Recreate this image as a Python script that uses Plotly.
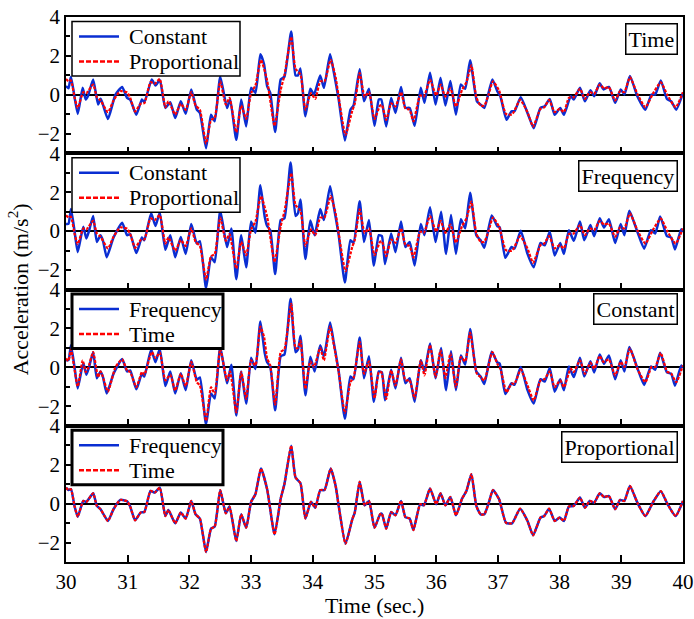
import plotly.graph_objects as go
from plotly.subplots import make_subplots

# ---------------- data ----------------
# Time-domain, constant damping
t_const_time = [30.00,30.04,30.08,30.19,30.27,30.32,30.36,30.44,30.52,30.56,30.59,30.68,30.80,30.91,30.99,31.04,31.14,31.23,31.27,31.39,31.45,31.52,31.61,31.69,31.77,31.86,31.94,32.03,32.12,32.17,32.27,32.35,32.41,32.50,32.61,32.66,32.76,32.84,32.92,33.00,33.07,33.15,33.21,33.26,33.31,33.39,33.48,33.54,33.65,33.72,33.76,33.80,33.88,33.96,34.02,34.12,34.18,34.28,34.34,34.42,34.52,34.61,34.66,34.76,34.83,34.91,35.00,35.07,35.11,35.19,35.27,35.34,35.43,35.50,35.57,35.65,35.75,35.81,35.90,35.99,36.07,36.15,36.23,36.32,36.40,36.47,36.55,36.66,36.72,36.78,36.91,36.99,37.04,37.14,37.22,37.27,37.37,37.50,37.58,37.69,37.76,37.84,37.92,38.01,38.07,38.18,38.23,38.33,38.41,38.50,38.56,38.65,38.71,38.80,38.90,38.99,39.05,39.14,39.26,39.39,39.49,39.55,39.64,39.74,39.81,39.89,40.00]
a_const_time = [0.45,0.34,0.93,-0.98,0.36,-0.24,-0.03,0.79,-0.50,-0.20,-0.41,-1.24,0.00,0.41,-0.16,-0.24,-1.02,-0.24,-0.38,0.79,0.48,0.76,-0.67,-0.38,-1.19,-0.33,-0.97,0.28,-0.76,-0.93,-2.74,-1.02,-1.36,0.93,-0.67,-0.21,-2.31,-0.24,-1.62,0.36,0.10,2.09,1.57,0.45,0.10,-1.91,0.79,0.93,3.26,1.00,1.00,1.36,-1.10,0.31,0.02,1.00,0.36,2.09,1.17,-0.24,-2.34,-0.76,-0.55,1.31,-0.33,0.31,-1.59,-0.24,-0.24,-1.62,-0.16,-0.93,0.41,-0.67,-0.67,-1.59,0.36,-0.41,1.14,-0.50,0.88,-0.55,0.71,-1.02,0.53,0.31,1.78,-0.33,-0.50,-0.67,0.79,0.19,-0.07,-1.28,-0.84,-0.84,-0.12,-1.10,-1.71,-0.67,-0.59,-0.21,-1.02,-0.67,-1.02,-0.07,-0.24,0.36,-0.33,0.24,-0.07,0.59,0.28,0.41,-0.41,0.28,0.02,0.97,-0.07,-0.76,0.02,0.02,0.74,-0.21,-0.33,-0.76,0.10]

# Frequency-domain, constant damping
t_const_freq = [30.00,30.04,30.08,30.14,30.19,30.28,30.33,30.37,30.44,30.50,30.56,30.60,30.66,30.77,30.91,30.99,31.04,31.14,31.23,31.27,31.38,31.45,31.52,31.61,31.69,31.77,31.86,31.94,32.03,32.12,32.17,32.27,32.35,32.41,32.50,32.61,32.68,32.76,32.84,32.92,33.00,33.07,33.15,33.22,33.26,33.31,33.39,33.48,33.54,33.64,33.72,33.76,33.80,33.88,33.96,34.03,34.12,34.18,34.28,34.34,34.42,34.52,34.61,34.66,34.76,34.83,34.91,34.99,35.07,35.12,35.17,35.27,35.34,35.43,35.50,35.57,35.65,35.75,35.81,35.90,35.99,36.08,36.16,36.24,36.32,36.40,36.47,36.55,36.65,36.72,36.78,36.90,36.99,37.03,37.12,37.22,37.27,37.37,37.48,37.58,37.69,37.76,37.84,37.92,38.01,38.07,38.15,38.23,38.33,38.40,38.50,38.56,38.65,38.72,38.80,38.90,38.99,39.05,39.13,39.26,39.37,39.48,39.55,39.63,39.74,39.81,39.87,39.97,40.00]
a_const_freq = [0.37,0.37,1.13,-0.03,-1.08,0.23,-0.38,-0.03,0.78,-0.56,-0.21,-0.50,-1.34,-0.33,0.43,-0.21,-0.16,-1.13,-0.33,-0.47,0.92,0.26,0.96,-0.96,-0.21,-1.34,-0.30,-1.17,0.37,-0.64,-0.52,-2.94,-1.34,-1.60,1.06,-0.82,0.14,-2.47,-0.21,-1.86,0.49,-0.09,2.35,0.75,0.26,0.05,-2.21,0.57,0.66,3.53,0.78,0.92,1.62,-1.43,0.54,-0.21,1.13,0.57,2.31,1.27,-0.21,-2.64,-0.47,-0.61,1.53,-0.56,0.57,-1.77,-0.21,-0.26,-1.69,-0.12,-1.08,0.49,-0.82,-0.56,-1.77,0.37,-0.21,1.23,-0.56,1.00,-1.17,0.83,-1.17,0.61,0.14,1.97,-0.21,-0.47,-0.85,0.80,0.26,0.19,-1.37,-0.82,-0.90,0.02,-1.17,-1.86,-0.61,-0.73,-0.03,-1.25,-0.61,-1.17,0.05,-0.50,0.49,-0.47,0.31,-0.26,0.66,0.19,0.61,-0.61,0.37,-0.21,1.04,-0.03,-0.90,0.05,-0.12,0.75,-0.26,-0.33,-0.94,0.09,-0.03]

# Proportional damping (time and frequency results practically coincide)
t_prop = [30.00,30.04,30.08,30.14,30.19,30.28,30.33,30.44,30.50,30.56,30.68,30.77,30.88,30.99,31.04,31.12,31.21,31.27,31.37,31.44,31.52,31.61,31.66,31.77,31.86,31.94,32.03,32.10,32.17,32.27,32.35,32.41,32.50,32.59,32.65,32.76,32.84,32.92,33.00,33.07,33.16,33.26,33.38,33.48,33.54,33.65,33.72,33.80,33.88,33.97,34.04,34.12,34.19,34.29,34.37,34.42,34.53,34.64,34.68,34.76,34.84,34.91,35.00,35.09,35.12,35.19,35.27,35.34,35.43,35.50,35.57,35.63,35.74,35.80,35.90,36.00,36.07,36.15,36.23,36.32,36.42,36.49,36.57,36.65,36.72,36.78,36.85,36.92,37.02,37.13,37.23,37.36,37.48,37.57,37.69,37.75,37.83,37.92,38.00,38.07,38.15,38.23,38.33,38.41,38.49,38.56,38.65,38.72,38.80,38.90,38.98,39.05,39.14,39.26,39.39,39.51,39.64,39.75,39.88,40.00]
a_prop = [0.82,0.70,0.74,-0.15,-0.67,0.14,0.09,0.53,-0.12,-0.29,-0.89,-0.29,0.19,0.12,-0.15,-0.86,-0.46,-0.43,0.65,0.57,0.82,-0.64,-0.33,-1.01,-0.46,-0.77,0.14,-0.55,-0.77,-2.49,-1.29,-1.18,0.69,-0.50,-0.15,-1.92,-0.55,-1.24,0.09,0.48,1.80,0.74,-1.58,0.26,1.00,2.97,1.34,1.05,-0.76,0.09,-0.21,0.69,0.70,1.80,0.91,-0.12,-2.06,-0.81,-0.46,1.12,-0.09,0.14,-1.24,-0.55,-0.52,-1.29,-0.43,-0.60,0.14,-0.69,-0.77,-1.36,-0.03,-0.09,0.77,-0.03,0.53,-0.09,0.34,-0.60,0.26,0.65,1.51,-0.12,-0.55,-0.55,0.02,0.70,0.22,-0.98,-1.01,-0.26,-0.89,-1.63,-0.72,-0.64,-0.26,-0.89,-0.72,-0.89,-0.15,-0.12,0.31,-0.21,0.14,0.05,0.53,0.34,0.39,-0.29,0.19,0.14,0.91,0.05,-0.64,0.05,0.64,-0.03,-0.64,0.14]

panel_labels = ["Time", "Frequency", "Constant", "Proportional"]
legend_names = [("Constant", "Proportional"), ("Constant", "Proportional"),
                ("Frequency", "Time"), ("Frequency", "Time")]
x_ticks = [30, 31, 32, 33, 34, 35, 36, 37, 38, 39, 40]
y_ticks = [-2, 0, 2, 4]

# ---------------- figure ----------------
FONT = "Times New Roman"
BLUE = "#0a2ed2"
RED = "#ff0000"
RED_DASH = "3px,1.5px"

W, H = 694, 619
ML, MR, MT, MB = 66, 11, 17, 57
PW, PH = W - ML - MR, H - MT - MB
PANEL_H = PH / 4


def px_x(px):
    return (px - ML) / PW


def px_y(py):
    return 1 - (py - MT) / PH


fig = make_subplots(rows=4, cols=1, shared_xaxes=True, vertical_spacing=0)

series = [
    ((t_const_time, a_const_time), (t_prop, a_prop)),
    ((t_const_freq, a_const_freq), (t_prop, a_prop)),
    ((t_const_freq, a_const_freq), (t_const_time, a_const_time)),
    ((t_prop, a_prop), (t_prop, a_prop)),
]

for i, (blue, red) in enumerate(series):
    fig.add_trace(go.Scatter(x=blue[0], y=blue[1], mode="lines", name=legend_names[i][0],
                             line=dict(color=BLUE, width=2.5, shape="spline", smoothing=0.5),
                             showlegend=False), row=i + 1, col=1)
    fig.add_trace(go.Scatter(x=red[0], y=red[1], mode="lines", name=legend_names[i][1],
                             line=dict(color=RED, width=2.2, dash=RED_DASH, shape="spline", smoothing=0.5),
                             showlegend=False), row=i + 1, col=1)

for r in range(1, 5):
    fig.update_yaxes(range=[-3, 4], tickvals=y_ticks, ticks="inside", ticklen=5, tickwidth=1.5,
                     tickcolor="black", minor=dict(dtick=1, ticks="inside", ticklen=4, tickwidth=1.5, tickcolor="black"),
                     showgrid=False, zeroline=True, zerolinecolor="black", zerolinewidth=1.5,
                     showline=True, linecolor="black", linewidth=1.5, mirror=True, automargin=False,
                     tickfont=dict(family=FONT, size=21, color="black"), row=r, col=1)
    fig.update_xaxes(range=[30, 40], tickvals=x_ticks, ticks="inside", ticklen=7, tickwidth=1.5,
                     tickcolor="black", showgrid=False, zeroline=False,
                     showline=True, linecolor="black", linewidth=1.5, mirror=True, automargin=False,
                     tickfont=dict(family=FONT, size=21, color="black"), row=r, col=1)

# ---- legend boxes (drawn per panel, top-left) ----
shapes = []
annotations = []
box_right = [240, 240, 223, 223]
box_border = [1.5, 1.5, 3, 3]
for i in range(4):
    top = MT + i * PANEL_H
    y0, y1 = top + 4.5, top + 59
    r1, r2 = top + 19.5, top + 44.5
    shapes.append(dict(type="rect", xref="paper", yref="paper", layer="above",
                       x0=px_x(72), x1=px_x(box_right[i]), y0=px_y(y1), y1=px_y(y0),
                       line=dict(color="black", width=box_border[i]), fillcolor="white"))
    shapes.append(dict(type="line", xref="paper", yref="paper", layer="above",
                       x0=px_x(79), x1=px_x(119), y0=px_y(r1), y1=px_y(r1),
                       line=dict(color=BLUE, width=2.5)))
    shapes.append(dict(type="line", xref="paper", yref="paper", layer="above",
                       x0=px_x(79), x1=px_x(119), y0=px_y(r2), y1=px_y(r2),
                       line=dict(color=RED, width=2.5, dash="5px,2px")))
    for name, ry in zip(legend_names[i], (r1, r2)):
        annotations.append(dict(text=name, xref="paper", yref="paper", x=px_x(127), y=px_y(ry),
                                xanchor="left", yanchor="middle", showarrow=False,
                                font=dict(family=FONT, size=22, color="black")))

ann_tops = [0.9895, 0.7376, 0.4936, 0.2409]
for lab, ytop in zip(panel_labels, ann_tops):
    annotations.append(dict(text=lab, xref="paper", yref="paper", x=0.992, y=ytop,
                            xanchor="right", yanchor="top", showarrow=False,
                            font=dict(family=FONT, size=22, color="black"),
                            bordercolor="black", borderwidth=1.5, borderpad=2, bgcolor="white"))
annotations.append(dict(text="Acceleration (m/s<sup>2</sup>)", xref="paper", yref="paper",
                        x=-0.078, y=0.5, textangle=-90, showarrow=False,
                        xanchor="center", yanchor="middle",
                        font=dict(family=FONT, size=22, color="black")))
annotations.append(dict(text="Time (sec.)", xref="paper", yref="paper",
                        x=0.5, y=-0.079, showarrow=False, xanchor="center", yanchor="middle",
                        font=dict(family=FONT, size=22, color="black")))

fig.update_layout(width=W, height=H, margin=dict(l=ML, r=MR, t=MT, b=MB, autoexpand=False),
                  plot_bgcolor="white", paper_bgcolor="white",
                  font=dict(family=FONT, size=21, color="black"),
                  annotations=annotations, shapes=shapes, showlegend=False)

fig.write_html("out.html")
